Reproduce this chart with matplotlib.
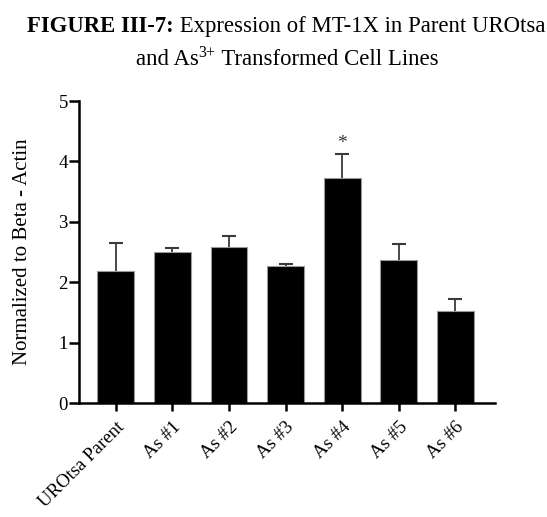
import matplotlib
matplotlib.use("Agg")
import matplotlib.pyplot as plt

plt.rcParams["font.family"] = ["Liberation Serif", "DejaVu Serif"]

categories = ["UROtsa Parent", "As #1", "As #2", "As #3", "As #4", "As #5", "As #6"]
means = [2.19, 2.50, 2.59, 2.27, 3.72, 2.36, 1.52]
errors = [0.46, 0.06, 0.17, 0.03, 0.41, 0.28, 0.20]
star_index = 4

fig = plt.figure(figsize=(5.47, 5.17), dpi=100)
ax = fig.add_axes([0.1444, 0.2205, 0.7606, 0.5841])

x = range(len(categories))
ax.bar(x, means, width=0.65, color="black", edgecolor="#9a9a9a", linewidth=0.8, zorder=2)
eb = ax.errorbar(x, means, yerr=[[0] * len(means), errors], fmt="none",
                 ecolor="#3a3a3a", elinewidth=1.3, capsize=5, capthick=1.5, zorder=1)
eb[1][0].set_visible(False)  # no lower caps
ax.text(star_index, means[star_index] + errors[star_index] + 0.03, "*",
        ha="center", va="bottom", fontsize=14, color="#333333")

ax.set_xlim(-0.65, 6.7)
ax.set_ylim(0, 5)
ax.set_yticks([0, 1, 2, 3, 4, 5])
ax.set_xticks(list(x))
ax.set_xticklabels(categories, rotation=45, ha="right", rotation_mode="anchor", fontsize=13.5)
ax.tick_params(axis="y", labelsize=13.5, width=1.8, length=7, direction="out", pad=1)
ax.tick_params(axis="x", width=1.8, length=5.5, direction="out", pad=6)
for side in ["top", "right"]:
    ax.spines[side].set_visible(False)
for side in ["left", "bottom"]:
    ax.spines[side].set_linewidth(1.8)
ax.set_ylabel("Normalized to Beta - Actin", fontsize=15, labelpad=19)

# title lines built from pieces (bold prefix, superscript charge), centred
fig.canvas.draw()
renderer = fig.canvas.get_renderer()
W, H = fig.bbox.width, fig.bbox.height


def place_line(pieces, xc, baseline):
    texts = []
    for s, kw, rise in pieces:
        t = fig.text(0, 0, s, va="baseline", **kw)
        texts.append((t, t.get_window_extent(renderer).width / W, rise))
    pos = xc - sum(w for _, w, _ in texts) / 2
    for t, w, rise in texts:
        t.set_position((pos, baseline + rise / H))
        pos += w


place_line([("FIGURE III-7:", dict(fontsize=16.4, fontweight="bold"), 0),
            (" Expression of MT-1X in Parent UROtsa", dict(fontsize=16.4), 0)],
           286 / 547, 1 - 32 / 517)
place_line([("and As", dict(fontsize=16.4), 0),
            ("3+", dict(fontsize=11.5), 8),
            (" Transformed Cell Lines", dict(fontsize=16.4), 0)],
           287 / 547, 1 - 65 / 517)

fig.savefig("out.png", dpi=100)
